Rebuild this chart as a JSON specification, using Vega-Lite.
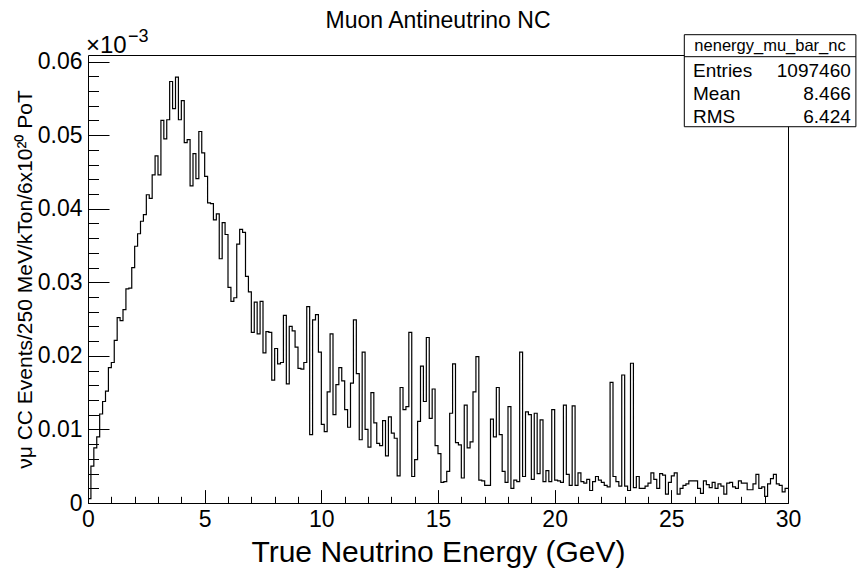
{
  "$schema": "https://vega.github.io/schema/vega-lite/v6.json",
  "width": 700,
  "height": 448,
  "autosize": "none",
  "padding": {"left": 88, "top": 55, "right": 73, "bottom": 66},
  "background": "white",
  "config": {
    "view": {"stroke": "#000", "strokeWidth": 1},
    "axis": {"grid": false, "labelFont": "Liberation Sans", "titleFont": "Liberation Sans", "labelColor": "#000", "titleColor": "#000", "tickColor": "#000", "tickWidth": 1, "domainColor": "#000", "titleFontWeight": "normal"},
    "text": {"font": "Liberation Sans", "color": "#000"}
  },
  "title": {"text": "Muon Antineutrino NC", "font": "Liberation Sans", "fontSize": 23, "fontWeight": "normal", "color": "#000", "anchor": "middle", "frame": "group", "offset": -5},
  "datasets": {
    "h": [
      {"e":0,"v":0.0006},{"e":0.125,"v":0.0050},{"e":0.25,"v":0.0075},{"e":0.375,"v":0.0090},{"e":0.5,"v":0.0121},{"e":0.625,"v":0.0138},{"e":0.75,"v":0.0152},{"e":0.875,"v":0.0184},{"e":1,"v":0.0191},{"e":1.125,"v":0.0221},
      {"e":1.25,"v":0.0252},{"e":1.375,"v":0.0248},{"e":1.5,"v":0.0263},{"e":1.625,"v":0.0291},{"e":1.75,"v":0.0292},{"e":1.875,"v":0.0320},{"e":2,"v":0.0349},{"e":2.125,"v":0.0366},{"e":2.25,"v":0.0383},{"e":2.375,"v":0.0392},
      {"e":2.5,"v":0.0419},{"e":2.625,"v":0.0414},{"e":2.75,"v":0.0446},{"e":2.875,"v":0.0472},{"e":3,"v":0.0446},{"e":3.125,"v":0.0520},{"e":3.25,"v":0.0495},{"e":3.375,"v":0.0521},{"e":3.5,"v":0.0573},{"e":3.625,"v":0.0536},
      {"e":3.75,"v":0.0579},{"e":3.875,"v":0.0521},{"e":4,"v":0.0547},{"e":4.125,"v":0.0490},{"e":4.25,"v":0.0494},{"e":4.375,"v":0.0431},{"e":4.5,"v":0.0475},{"e":4.625,"v":0.0441},{"e":4.75,"v":0.0505},{"e":4.875,"v":0.0476},
      {"e":5,"v":0.0444},{"e":5.125,"v":0.0408},{"e":5.25,"v":0.0407},{"e":5.375,"v":0.0385},{"e":5.5,"v":0.0393},{"e":5.625,"v":0.0332},{"e":5.75,"v":0.0381},{"e":5.875,"v":0.0365},{"e":6,"v":0.0293},{"e":6.125,"v":0.0274},
      {"e":6.25,"v":0.0279},{"e":6.375,"v":0.0352},{"e":6.5,"v":0.0372},{"e":6.625,"v":0.0368},{"e":6.75,"v":0.0308},{"e":6.875,"v":0.0287},{"e":7,"v":0.0232},{"e":7.125,"v":0.0273},{"e":7.25,"v":0.0230},{"e":7.375,"v":0.0274},
      {"e":7.5,"v":0.0204},{"e":7.625,"v":0.0233},{"e":7.75,"v":0.0232},{"e":7.875,"v":0.0167},{"e":8,"v":0.0210},{"e":8.125,"v":0.0189},{"e":8.25,"v":0.0191},{"e":8.375,"v":0.0255},{"e":8.5,"v":0.0162},{"e":8.625,"v":0.0240},
      {"e":8.75,"v":0.0234},{"e":8.875,"v":0.0212},{"e":9,"v":0.0183},{"e":9.125,"v":0.0182},{"e":9.25,"v":0.0191},{"e":9.375,"v":0.0267},{"e":9.5,"v":0.0093},{"e":9.625,"v":0.0249},{"e":9.75,"v":0.0256},{"e":9.875,"v":0.0205},
      {"e":10,"v":0.0107},{"e":10.125,"v":0.0097},{"e":10.25,"v":0.0151},{"e":10.375,"v":0.0230},{"e":10.5,"v":0.0120},{"e":10.625,"v":0.0161},{"e":10.75,"v":0.0184},{"e":10.875,"v":0.0166},{"e":11,"v":0.0127},{"e":11.125,"v":0.0103},
      {"e":11.25,"v":0.0163},{"e":11.375,"v":0.0249},{"e":11.5,"v":0.0176},{"e":11.625,"v":0.0086},{"e":11.75,"v":0.0205},{"e":11.875,"v":0.0100},{"e":12,"v":0.0076},{"e":12.125,"v":0.0150},{"e":12.25,"v":0.0109},{"e":12.375,"v":0.0081},
      {"e":12.5,"v":0.0078},{"e":12.625,"v":0.0112},{"e":12.75,"v":0.0064},{"e":12.875,"v":0.0117},{"e":13,"v":0.0095},{"e":13.125,"v":0.0088},{"e":13.25,"v":0.0037},{"e":13.375,"v":0.0157},{"e":13.5,"v":0.0127},{"e":13.625,"v":0.0131},
      {"e":13.75,"v":0.0232},{"e":13.875,"v":0.0036},{"e":14,"v":0.0059},{"e":14.125,"v":0.0111},{"e":14.25,"v":0.0186},{"e":14.375,"v":0.0138},{"e":14.5,"v":0.0225},{"e":14.625,"v":0.0115},{"e":14.75,"v":0.0155},{"e":14.875,"v":0.0078},
      {"e":15,"v":0.0067},{"e":15.125,"v":0.0028},{"e":15.25,"v":0.0029},{"e":15.375,"v":0.0043},{"e":15.5,"v":0.0122},{"e":15.625,"v":0.0189},{"e":15.75,"v":0.0082},{"e":15.875,"v":0.0079},{"e":16,"v":0.0034},{"e":16.125,"v":0.0133},
      {"e":16.25,"v":0.0075},{"e":16.375,"v":0.0083},{"e":16.5,"v":0.0151},{"e":16.625,"v":0.0199},{"e":16.75,"v":0.0031},{"e":16.875,"v":0.0030},{"e":17,"v":0.0024},{"e":17.125,"v":0.0024},{"e":17.25,"v":0.0114},{"e":17.375,"v":0.0090},
      {"e":17.5,"v":0.0157},{"e":17.625,"v":0.0093},{"e":17.75,"v":0.0043},{"e":17.875,"v":0.0028},{"e":18,"v":0.0131},{"e":18.125,"v":0.0020},{"e":18.25,"v":0.0031},{"e":18.375,"v":0.0029},{"e":18.5,"v":0.0205},{"e":18.625,"v":0.0036},
      {"e":18.75,"v":0.0124},{"e":18.875,"v":0.0120},{"e":19,"v":0.0032},{"e":19.125,"v":0.0122},{"e":19.25,"v":0.0040},{"e":19.375,"v":0.0113},{"e":19.5,"v":0.0029},{"e":19.625,"v":0.0044},{"e":19.75,"v":0.0029},{"e":19.875,"v":0.0127},
      {"e":20,"v":0.0031},{"e":20.125,"v":0.0030},{"e":20.25,"v":0.0028},{"e":20.375,"v":0.0133},{"e":20.5,"v":0.0039},{"e":20.625,"v":0.0024},{"e":20.75,"v":0.0132},{"e":20.875,"v":0.0024},{"e":21,"v":0.0041},{"e":21.125,"v":0.0029},
      {"e":21.25,"v":0.0027},{"e":21.375,"v":0.0032},{"e":21.5,"v":0.0017},{"e":21.625,"v":0.0029},{"e":21.75,"v":0.0036},{"e":21.875,"v":0.0031},{"e":22,"v":0.0028},{"e":22.125,"v":0.0024},{"e":22.25,"v":0.0022},{"e":22.375,"v":0.0164},
      {"e":22.5,"v":0.0036},{"e":22.625,"v":0.0029},{"e":22.75,"v":0.0023},{"e":22.875,"v":0.0174},{"e":23,"v":0.0023},{"e":23.125,"v":0.0017},{"e":23.25,"v":0.0190},{"e":23.375,"v":0.0021},{"e":23.5,"v":0.0036},{"e":23.625,"v":0.0020},
      {"e":23.75,"v":0.0020},{"e":23.875,"v":0.0023},{"e":24,"v":0.0027},{"e":24.125,"v":0.0041},{"e":24.25,"v":0.0032},{"e":24.375,"v":0.0020},{"e":24.5,"v":0.0040},{"e":24.625,"v":0.0038},{"e":24.75,"v":0.0012},{"e":24.875,"v":0.0028},
      {"e":25,"v":0.0037},{"e":25.125,"v":0.0041},{"e":25.25,"v":0.0012},{"e":25.375,"v":0.0020},{"e":25.5,"v":0.0024},{"e":25.625,"v":0.0026},{"e":25.75,"v":0.0030},{"e":25.875,"v":0.0030},{"e":26,"v":0.0030},{"e":26.125,"v":0.0020},
      {"e":26.25,"v":0.0013},{"e":26.375,"v":0.0030},{"e":26.5,"v":0.0025},{"e":26.625,"v":0.0021},{"e":26.75,"v":0.0028},{"e":26.875,"v":0.0020},{"e":27,"v":0.0026},{"e":27.125,"v":0.0023},{"e":27.25,"v":0.0012},{"e":27.375,"v":0.0027},
      {"e":27.5,"v":0.0028},{"e":27.625,"v":0.0022},{"e":27.75,"v":0.0020},{"e":27.875,"v":0.0030},{"e":28,"v":0.0027},{"e":28.125,"v":0.0027},{"e":28.25,"v":0.0018},{"e":28.375,"v":0.0018},{"e":28.5,"v":0.0026},{"e":28.625,"v":0.0039},
      {"e":28.75,"v":0.0020},{"e":28.875,"v":0.0022},{"e":29,"v":0.0009},{"e":29.125,"v":0.0026},{"e":29.25,"v":0.0033},{"e":29.375,"v":0.0039},{"e":29.5,"v":0.0026},{"e":29.625,"v":0.0024},{"e":29.75,"v":0.0015},{"e":29.875,"v":0.0020},
      {"e":30,"v":0.0020}
    ]
  },
  "layer": [
    {
      "data": {"name": "h"},
      "mark": {"type": "line", "interpolate": "step-after", "color": "#000", "strokeWidth": 1.2},
      "encoding": {
        "x": {"field": "e", "type": "quantitative", "scale": {"domain": [0, 30], "nice": false, "zero": false},
          "axis": {"orient": "bottom", "values": [0, 5, 10, 15, 20, 25, 30], "ticks": false, "domain": false, "labelFontSize": 23, "labelPadding": 5, "labelFlush": false, "labelOverlap": false, "labelAngle": 0, "title": "True Neutrino Energy (GeV)", "titleFontSize": 30, "titlePadding": 6}},
        "y": {"field": "v", "type": "quantitative", "scale": {"domain": [0, 0.0609], "nice": false, "zero": true},
          "axis": {"orient": "left", "values": [0, 0.01, 0.02, 0.03, 0.04, 0.05, 0.06], "ticks": false, "domain": false, "labelFontSize": 23, "labelPadding": 6, "labelFlush": false, "labelOverlap": false, "labelExpr": "datum.value == 0 ? '0' : format(datum.value, '.2f')", "title": "νμ CC Events/250 MeV/kTon/6x10²⁰ PoT", "titleFontSize": 21, "titlePadding": 2}}
      }
    },
    {
      "data": {"name": "h"},
      "mark": {"type": "line", "interpolate": "step-after", "strokeOpacity": 0},
      "encoding": {
        "x": {"field": "e", "type": "quantitative", "axis": {"orient": "bottom", "values": [0, 5, 10, 15, 20, 25, 30], "tickSize": -13.4, "labels": false, "domain": false, "title": null}},
        "y": {"field": "v", "type": "quantitative", "axis": {"orient": "left", "values": [0, 0.01, 0.02, 0.03, 0.04, 0.05, 0.06], "tickSize": -21, "labels": false, "domain": false, "title": null}}
      }
    },
    {
      "data": {"name": "h"},
      "mark": {"type": "line", "interpolate": "step-after", "strokeOpacity": 0},
      "encoding": {
        "x": {"field": "e", "type": "quantitative", "axis": {"orient": "bottom", "values": [0,1,2,3,4,5,6,7,8,9,10,11,12,13,14,15,16,17,18,19,20,21,22,23,24,25,26,27,28,29,30], "tickSize": -6.7, "labels": false, "domain": false, "title": null}},
        "y": {"field": "v", "type": "quantitative", "axis": {"orient": "left", "values": [0,0.002,0.004,0.006,0.008,0.01,0.012,0.014,0.016,0.018,0.02,0.022,0.024,0.026,0.028,0.03,0.032,0.034,0.036,0.038,0.04,0.042,0.044,0.046,0.048,0.05,0.052,0.054,0.056,0.058,0.06], "tickSize": -10.5, "labels": false, "domain": false, "title": null}}
      }
    },
    {
      "data": {"values": [{}]},
      "mark": {"type": "text", "text": "×10", "fontSize": 24, "align": "left", "baseline": "alphabetic", "dx": -2, "dy": -2},
      "encoding": {"x": {"datum": 0, "type": "quantitative", "axis": null}, "y": {"datum": 0.0609, "type": "quantitative", "axis": null}}
    },
    {
      "data": {"values": [{}]},
      "mark": {"type": "text", "text": "−3", "fontSize": 18, "align": "left", "baseline": "alphabetic", "dx": 40, "dy": -13},
      "encoding": {"x": {"datum": 0, "type": "quantitative", "axis": null}, "y": {"datum": 0.0609, "type": "quantitative", "axis": null}}
    },
    {
      "data": {"values": [{}]},
      "mark": {"type": "rect", "fill": "white", "stroke": "#000", "strokeWidth": 1},
      "encoding": {"x": {"datum": 25.556, "type": "quantitative", "axis": null}, "x2": {"datum": 32.91}, "y": {"datum": 0.06366, "type": "quantitative", "axis": null}, "y2": {"datum": 0.05115}}
    },
    {
      "data": {"values": [{}]},
      "mark": {"type": "rule", "color": "#000", "strokeWidth": 1},
      "encoding": {"x": {"datum": 25.556, "type": "quantitative", "axis": null}, "x2": {"datum": 32.91}, "y": {"datum": 0.06067, "type": "quantitative", "axis": null}}
    },
    {
      "data": {"values": [{}]},
      "mark": {"type": "text", "text": "nenergy_mu_bar_nc", "fontSize": 16.5, "align": "center", "baseline": "alphabetic"},
      "encoding": {"x": {"datum": 29.23, "type": "quantitative", "axis": null}, "y": {"datum": 0.06139, "type": "quantitative", "axis": null}}
    },
    {
      "data": {"values": [{"k": "Entries", "val": "1097460", "y": 0.05795}, {"k": "Mean", "val": "8.466", "y": 0.05483}, {"k": "RMS", "val": "6.424", "y": 0.0517}]},
      "mark": {"type": "text", "fontSize": 19, "align": "left", "baseline": "alphabetic"},
      "encoding": {"x": {"datum": 25.93, "type": "quantitative", "axis": null}, "y": {"field": "y", "type": "quantitative", "axis": null}, "text": {"field": "k"}}
    },
    {
      "data": {"values": [{"k": "Entries", "val": "1097460", "y": 0.05795}, {"k": "Mean", "val": "8.466", "y": 0.05483}, {"k": "RMS", "val": "6.424", "y": 0.0517}]},
      "mark": {"type": "text", "fontSize": 19, "align": "right", "baseline": "alphabetic"},
      "encoding": {"x": {"datum": 32.69, "type": "quantitative", "axis": null}, "y": {"field": "y", "type": "quantitative", "axis": null}, "text": {"field": "val"}}
    }
  ],
  "resolve": {"axis": {"x": "independent", "y": "independent"}}
}
